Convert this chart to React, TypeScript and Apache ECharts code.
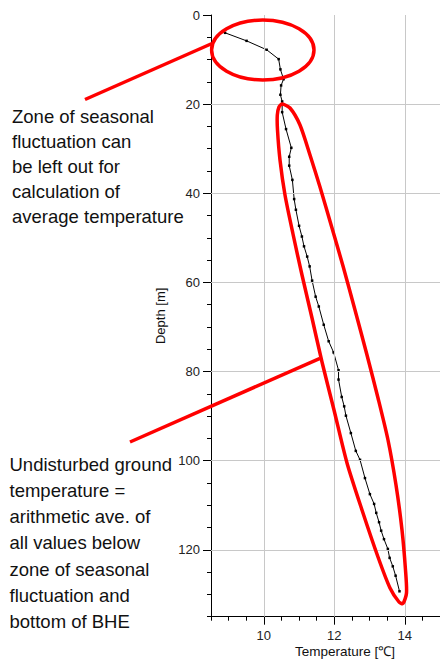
import React, { useEffect, useRef } from "react";
import * as echarts from "echarts";

// Temperature profile (depth in m, temperature in °C)
const depths = [
  4.0, 5.8, 7.8, 9.9, 12.2, 14.4, 15.8, 17.9, 19.4, 21.8, 25.6, 29.8, 31.8, 33.8,
  37.0, 41.3, 43.7, 47.3, 49.7, 51.9, 54.2, 56.4, 59.6, 63.2, 65.4, 69.5, 73.2,
  75.7, 79.7, 81.8, 85.7, 87.8, 89.9, 93.8, 97.8, 99.8, 103.9, 107.5, 109.7,
  111.7, 113.8, 115.7, 117.6, 119.8, 121.8, 123.7, 125.8, 129.3,
];
const temperatures = [
  8.9, 9.51, 10.08, 10.42, 10.47, 10.56, 10.49, 10.47, 10.52, 10.52, 10.63, 10.78,
  10.72, 10.72, 10.81, 10.86, 10.91, 11.0, 11.08, 11.14, 11.23, 11.3, 11.37, 11.47,
  11.56, 11.7, 11.84, 11.98, 12.12, 12.12, 12.21, 12.28, 12.33, 12.47, 12.61,
  12.73, 12.87, 13.01, 13.13, 13.19, 13.27, 13.33, 13.41, 13.52, 13.57, 13.66,
  13.74, 13.85,
];

const xTickLabels = [10, 12, 14];
const yTickLabels = [0, 20, 40, 60, 80, 100, 120];
const xGridLines = [10, 12, 14];
const yGridLines = [20, 40, 60, 80, 100, 120];

const noteTop = [
  "Zone of seasonal",
  "fluctuation can",
  "be left out for",
  "calculation of",
  "average temperature",
];
const noteBottom = [
  "Undisturbed ground",
  "temperature =",
  "arithmetic ave. of",
  "all values below",
  "zone of seasonal",
  "fluctuation and",
  "bottom of BHE",
];

const FONT = "'Liberation Sans', Arial, Helvetica, sans-serif";
const RED = "#ff0000";

const loopPoints = [
  [282, 104], [290, 108], [300, 125], [310, 155], [320, 187], [332, 228],
  [343, 266], [355, 310], [367, 355], [378, 398], [388, 440], [396, 485],
  [402, 530], [405.5, 570], [406.5, 593], [403, 603.5],
  [399, 602], [390, 588], [378, 557], [362, 510], [347, 463], [334, 410],
  [322, 362], [312, 318], [302, 275], [293, 234], [285, 195], [280, 160],
  [277.5, 130], [277.3, 115], [279, 107],
];

export default function App() {
  const ref = useRef<HTMLDivElement>(null);
  useEffect(() => {
    if (!ref.current) return;
    const chart = echarts.init(ref.current, null, { renderer: "svg" });
    const data = depths.map((d, i) => [temperatures[i], d]);
    const axisCommon = {
      type: "value" as const,
    };
    chart.setOption({
      animation: false,
      backgroundColor: "#ffffff",
      textStyle: { fontFamily: FONT },
      grid: { left: 211, top: 15, right: -2.4, bottom: 43.3, containLabel: false },
      xAxis: [
        {
          ...axisCommon,
          min: 8.5,
          max: 15,
          interval: 0.5,
          position: "bottom",
          axisLine: { show: true, onZero: false, lineStyle: { color: "#000", width: 1 } },
          axisTick: { show: true, length: 4, lineStyle: { color: "#000", width: 1 } },
          axisLabel: {
            show: true,
            customValues: xTickLabels,
            formatter: (v: number) => (xTickLabels.includes(v) ? String(v) : ""),
            color: "#222",
            fontSize: 13,
            margin: 12,
            fontFamily: FONT,
          },
          splitLine: { show: false },
        },
        {
          ...axisCommon,
          min: 8.5,
          max: 15,
          position: "bottom",
          axisLine: { show: false, onZero: false },
          axisTick: { show: true, customValues: xTickLabels, length: 8, lineStyle: { color: "#000", width: 1 } },
          axisLabel: { show: false },
          splitLine: { show: false },
        },
      ],
      yAxis: [
        {
          ...axisCommon,
          min: 0,
          max: 135,
          interval: 5,
          inverse: true,
          position: "left",
          axisLine: { show: true, onZero: false, lineStyle: { color: "#000", width: 1 } },
          axisTick: { show: true, length: 4, lineStyle: { color: "#000", width: 1 } },
          axisLabel: {
            show: true,
            customValues: yTickLabels,
            formatter: (v: number) => (yTickLabels.includes(v) ? String(v) : ""),
            color: "#222",
            fontSize: 13,
            margin: 11,
            fontFamily: FONT,
          },
          splitLine: { show: false },
          name: "Depth [m]",
          nameLocation: "middle",
          nameRotate: 90,
          nameGap: 41,
          nameTextStyle: { color: "#111", fontSize: 13, fontFamily: FONT },
        },
        {
          ...axisCommon,
          min: 0,
          max: 135,
          inverse: true,
          position: "left",
          axisLine: { show: false, onZero: false },
          axisTick: { show: true, customValues: yTickLabels, length: 8, lineStyle: { color: "#000", width: 1 } },
          axisLabel: { show: false },
          splitLine: { show: false },
        },
      ],
      series: [
        {
          type: "line",
          xAxisIndex: 0,
          yAxisIndex: 0,
          data: [],
          z: 1,
          silent: true,
          markLine: {
            silent: true,
            symbol: ["none", "none"],
            label: { show: false },
            lineStyle: { color: "#c8c8c8", width: 1, type: "solid" },
            data: [
              ...xGridLines.map((v) => ({ xAxis: v })),
              ...yGridLines.map((v) => ({ yAxis: v })),
            ],
          },
        },
        {
          type: "line",
          xAxisIndex: 0,
          yAxisIndex: 0,
          data,
          z: 3,
          symbol: "rect",
          symbolSize: 2.5,
          showSymbol: true,
          lineStyle: { color: "#000", width: 1 },
          itemStyle: { color: "#000" },
        },
      ],
      graphic: [
        {
          type: "text",
          x: 345,
          y: 651,
          z: 50,
          style: {
            text: "Temperature [℃]",
            fill: "#111",
            font: `13.5px ${FONT}`,
            align: "center",
            verticalAlign: "middle",
          },
        },
        {
          type: "text",
          x: 12,
          y: 104.2,
          z: 50,
          style: {
            text: noteTop.join("\n"),
            fill: "#111",
            font: `18.5px ${FONT}`,
            lineHeight: 25,
            align: "left",
            verticalAlign: "top",
          },
        },
        {
          type: "text",
          x: 9.5,
          y: 451.6,
          z: 50,
          style: {
            text: noteBottom.join("\n"),
            fill: "#111",
            font: `18.5px ${FONT}`,
            lineHeight: 26.1,
            align: "left",
            verticalAlign: "top",
          },
        },
        {
          type: "ellipse",
          z: 60,
          shape: { cx: 262.8, cy: 50, rx: 51.2, ry: 30 },
          style: { fill: "none", stroke: RED, lineWidth: 3.5 },
        },
        {
          type: "line",
          z: 60,
          shape: { x1: 85, y1: 99.5, x2: 212, y2: 43.5 },
          style: { stroke: RED, lineWidth: 3.5 },
        },
        {
          type: "line",
          z: 60,
          shape: { x1: 130, y1: 442, x2: 320, y2: 358.3 },
          style: { stroke: RED, lineWidth: 3.5 },
        },
        {
          type: "polygon",
          z: 60,
          shape: { points: loopPoints, smooth: 0.25 },
          style: { fill: "none", stroke: RED, lineWidth: 3.5 },
        },
      ],
    });
    return () => chart.dispose();
  }, []);
  return (
    <div
      ref={ref}
      style={{ position: "fixed", left: 0, top: 0, width: 440, height: 660 }}
    />
  );
}
